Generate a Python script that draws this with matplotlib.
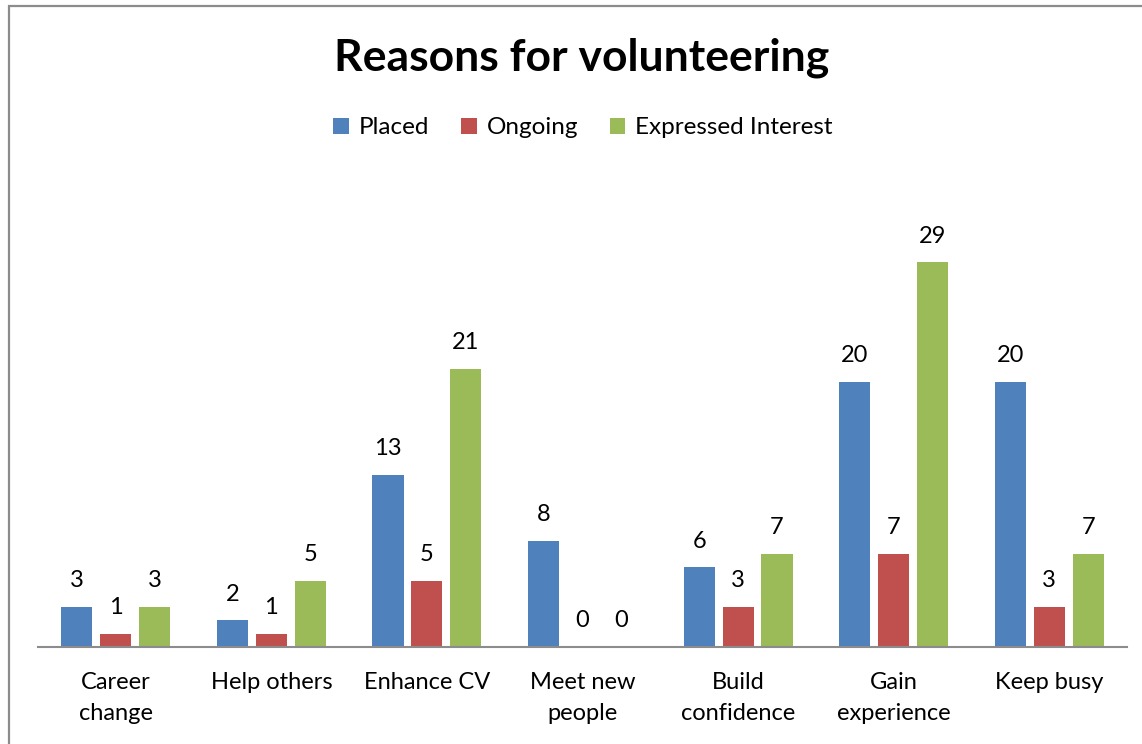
import numpy as np
import matplotlib.pyplot as plt
from matplotlib.patches import Rectangle

# ---------------------------
# Data
# ---------------------------
categories = ['Career\nchange', 'Help others', 'Enhance CV', 'Meet new\npeople',
              'Build\nconfidence', 'Gain\nexperience', 'Keep busy']
placed = [3, 2, 13, 8, 6, 20, 20]
ongoing = [1, 1, 5, 0, 3, 7, 3]
expressed = [3, 5, 21, 0, 7, 29, 7]

series_names = ['Placed', 'Ongoing', 'Expressed Interest']
colors = ['#4F81BD', '#C0504D', '#9BBB59']

plt.rcParams['font.family'] = ['Lato', 'DejaVu Sans']

W, H = 1142, 744
fig = plt.figure(figsize=(W / 100, H / 100), dpi=100)

# plot area in pixel terms -> figure fractions
left, right, base_y = 38, 1127, 647
ymax = 30
px_per_unit = 13.26
ax = fig.add_axes([left / W, 1 - base_y / H, (right - left) / W, ymax * px_per_unit / H])

x = np.arange(len(categories))
width = 0.2
offsets = [-0.25, 0, 0.25]

handles = []
for vals, off, col, name in zip([placed, ongoing, expressed], offsets, colors, series_names):
    bars = ax.bar(x + off, vals, width, color=col, label=name, zorder=2)
    handles.append(bars)
    for xi, v in zip(x + off, vals):
        ax.annotate(str(v), (xi, v), xytext=(0, 19), textcoords='offset points',
                    ha='center', va='center', fontsize=17, color='black')

ax.set_xlim(-0.5, len(categories) - 0.5)
ax.set_ylim(0, ymax)
ax.set_yticks([])
ax.set_xticks(x)
ax.set_xticklabels(categories, fontsize=17, linespacing=1.6)
ax.tick_params(axis='x', length=0, pad=18)

for s in ['top', 'right', 'left']:
    ax.spines[s].set_visible(False)
ax.spines['bottom'].set_color('#8C8C8C')
ax.spines['bottom'].set_linewidth(1.5)
ax.patch.set_alpha(0)

# title and legend
fig.text(582 / W, 1 - 58 / H, 'Reasons for volunteering', ha='center', va='center',
         fontsize=32, fontweight='bold')
fig.legend(handles=handles, labels=series_names, loc='center',
           bbox_to_anchor=(583 / W, 1 - 128 / H), ncol=3, frameon=False,
           fontsize=17.5, handlelength=0.65, handleheight=0.65,
           handletextpad=0.4, columnspacing=1.3)

# chart border
fig.patches.append(Rectangle((8.5 / W, -0.05), 1.2, 1 - 6 / H + 0.05,
                             transform=fig.transFigure, fill=False,
                             edgecolor='#8C8C8C', linewidth=1.6))

fig.savefig('out.png', dpi=100)
